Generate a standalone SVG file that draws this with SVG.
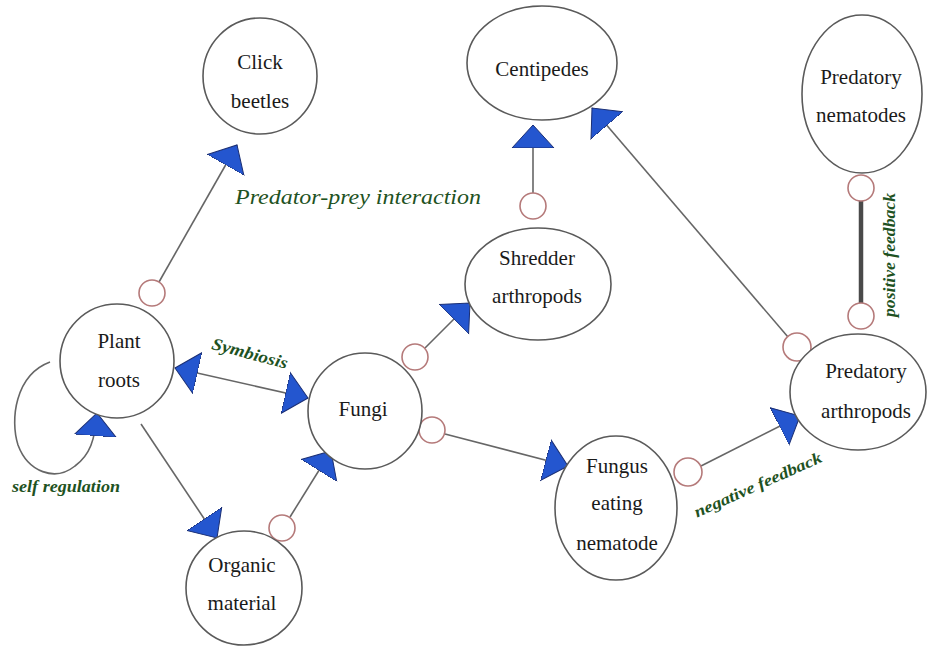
<svg xmlns="http://www.w3.org/2000/svg" width="927" height="646" viewBox="0 0 927 646">
<defs>
<style>
.node{fill:#fff;stroke:#5a5a5a;stroke-width:1.6}
.lbl{font-size:21px;fill:#1a1a1a;text-anchor:middle}
.knob{fill:#fff;stroke:#b57a7a;stroke-width:1.6}
.edge{fill:none;stroke:#666;stroke-width:1.6}
.arr{marker-end:url(#tri)}
.note{fill:#1e5222;font-style:italic}
</style>
<marker id="tri" markerUnits="userSpaceOnUse" viewBox="0 -22 24 44" refX="23" refY="0" markerWidth="24" markerHeight="44" orient="auto-start-reverse">
<path d="M0,-21 L23,0 L0,21 Z" fill="#2456cf" stroke="#1b2f74" stroke-width="1"/>
</marker>
</defs>
<rect width="927" height="646" fill="#fff"/>

<g id="connectors">
<line class="edge arr" x1="159" y1="282" x2="237" y2="145"/>
<line class="edge arr" x1="533" y1="193" x2="533" y2="125"/>
<line class="edge arr" x1="425" y1="348" x2="470" y2="303"/>
<line class="edge arr" x1="445" y1="434" x2="568" y2="466"/>
<line class="edge arr" x1="290" y1="517" x2="331" y2="451"/>
<line class="edge arr" x1="701" y1="466" x2="800" y2="416"/>
<line class="edge arr" x1="788" y1="337" x2="592" y2="108"/>
<line class="edge arr" x1="141" y1="424" x2="217" y2="538"/>
<line class="edge" x1="175" y1="368" x2="308" y2="398" marker-start="url(#tri)" marker-end="url(#tri)"/>
<path class="edge arr" d="M50,362 C15,375 10,420 18,445 C28,472 55,482 75,466 C90,455 95,440 97,413"/>
<line x1="861" y1="201" x2="861" y2="303" stroke="#4a4a4a" stroke-width="4.5"/>
</g>

<g id="knobs">
<circle class="knob" cx="152" cy="293" r="13"/>
<circle class="knob" cx="533" cy="206" r="13"/>
<circle class="knob" cx="415" cy="357" r="13"/>
<circle class="knob" cx="432" cy="430" r="13"/>
<circle class="knob" cx="282" cy="528" r="13"/>
<circle class="knob" cx="688" cy="472" r="14"/>
<circle class="knob" cx="797" cy="347" r="14"/>
<circle class="knob" cx="861" cy="188" r="13"/>
<circle class="knob" cx="861" cy="316" r="13"/>
</g>

<g font-family="'Liberation Serif', 'DejaVu Serif', 'Times New Roman', serif">
<g id="click-beetles">
<ellipse class="node" cx="260" cy="76" rx="57" ry="58"/>
<text class="lbl" x="260" y="69">Click</text>
<text class="lbl" x="260" y="108">beetles</text>
</g>
<g id="centipedes">
<ellipse class="node" cx="542" cy="63" rx="75" ry="57"/>
<text class="lbl" x="542" y="76">Centipedes</text>
</g>
<g id="predatory-nematodes">
<ellipse class="node" cx="862" cy="94" rx="60" ry="79"/>
<text class="lbl" x="861" y="84">Predatory</text>
<text class="lbl" x="861" y="122">nematodes</text>
</g>
<g id="shredder-arthropods">
<ellipse class="node" cx="538" cy="284" rx="73" ry="56"/>
<text class="lbl" x="537" y="265">Shredder</text>
<text class="lbl" x="537" y="303">arthropods</text>
</g>
<g id="plant-roots">
<ellipse class="node" cx="117" cy="361" rx="57" ry="57"/>
<text class="lbl" x="119" y="348">Plant</text>
<text class="lbl" x="119" y="387">roots</text>
</g>
<g id="fungi">
<ellipse class="node" cx="365" cy="411" rx="57" ry="58"/>
<text class="lbl" x="363" y="416">Fungi</text>
</g>
<g id="fungus-eating-nematode">
<ellipse class="node" cx="616" cy="508" rx="61" ry="72"/>
<text class="lbl" x="617" y="473">Fungus</text>
<text class="lbl" x="617" y="510">eating</text>
<text class="lbl" x="617" y="550">nematode</text>
</g>
<g id="predatory-arthropods">
<ellipse class="node" cx="858" cy="392" rx="68" ry="58"/>
<text class="lbl" x="866" y="378">Predatory</text>
<text class="lbl" x="866" y="418">arthropods</text>
</g>
<g id="organic-material">
<ellipse class="node" cx="244" cy="588" rx="58" ry="57"/>
<text class="lbl" x="242" y="572">Organic</text>
<text class="lbl" x="242" y="610">material</text>
</g>

<g id="labels">
<text class="note" x="235" y="204" font-size="21" textLength="246" lengthAdjust="spacingAndGlyphs">Predator-prey interaction</text>
<text class="note" x="250" y="359" font-size="17" font-weight="bold" text-anchor="middle" textLength="78" lengthAdjust="spacingAndGlyphs" transform="rotate(15 250 353)">Symbiosis</text>
<text class="note" x="12" y="492" font-size="16" font-weight="bold" font-style="normal" textLength="108" lengthAdjust="spacingAndGlyphs">self regulation</text>
<text class="note" x="758" y="490" font-size="16" font-weight="bold" text-anchor="middle" textLength="138" lengthAdjust="spacingAndGlyphs" transform="rotate(-24 758 485)">negative feedback</text>
<text class="note" x="890" y="260" font-size="16" font-weight="bold" text-anchor="middle" textLength="124" lengthAdjust="spacingAndGlyphs" transform="rotate(-90 890 255)">positive feedback</text>
</g>
</g>
</svg>
